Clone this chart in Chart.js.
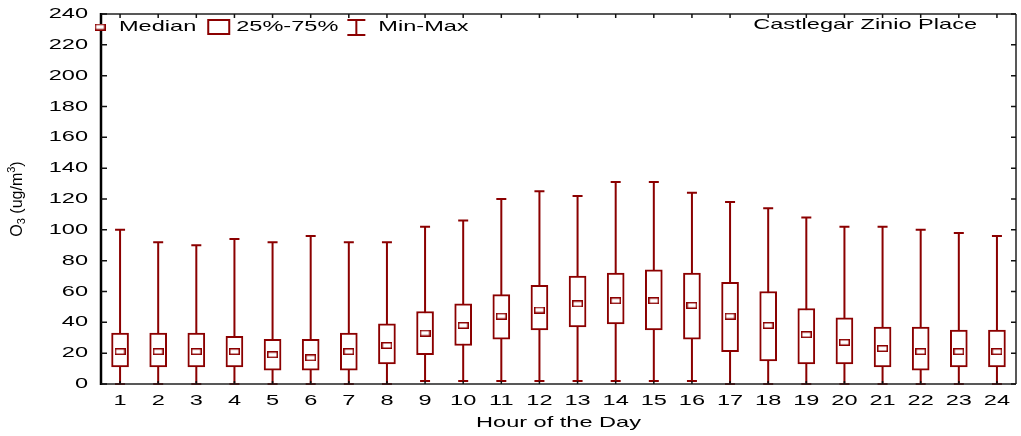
<!DOCTYPE html>
<html>
<head>
<meta charset="utf-8">
<script src="https://cdn.jsdelivr.net/npm/chart.js@4"></script>
<style>
  html, body { margin: 0; padding: 0; background: #fff; }
  canvas { display: block; }
</style>
</head>
<body>
<canvas id="chart" width="1021" height="436"></canvas>
<script>
// Hourly ozone distribution, Castlegar Zinio Place
const hours = ['1','2','3','4','5','6','7','8','9','10','11','12','13','14','15','16','17','18','19','20','21','22','23','24'];
const minVals = [0, 0, 0, 0, 0, 0, 0, 0, 2, 2, 2, 2, 2, 2, 2, 2, 0, 0, 0, 0, 0, 0, 0, 0];
const q1Vals  = [11, 11, 11, 11, 9, 9, 9, 13, 19, 25, 29, 35, 37, 39, 35, 29, 21, 15, 13, 13, 11, 9, 11, 11];
const medVals = [21, 21, 21, 21, 19, 17, 21, 25, 33, 38, 44, 48, 52, 54, 54, 51, 44, 38, 32, 27, 23, 21, 21, 21];
const q3Vals  = [33, 33, 33, 31, 29, 29, 33, 39, 47, 52, 58, 64, 70, 72, 74, 72, 66, 60, 49, 43, 37, 37, 35, 35];
const maxVals = [100, 92, 90, 94, 92, 96, 92, 92, 102, 106, 120, 125, 122, 131, 131, 124, 118, 114, 108, 102, 102, 100, 98, 96];
const yTickValues = [0, 20, 40, 60, 80, 100, 120, 140, 160, 180, 200, 220, 240];

const siteName = 'Castlegar Zinio Place';
const xTitle = 'Hour of the Day';
const legendLabels = ['Median', '25%-75%', 'Min-Max'];

const RED = '#8b0000';
const INK = '#000';
const FONT = '"Liberation Sans", Arial, sans-serif';
const SX = 1.57;   // horizontal stretch of the lettering

// small white rectangle used as the median marker
function makeMedianMarker() {
  const c = document.createElement('canvas');
  c.width = 11; c.height = 7;
  const g = c.getContext('2d');
  g.fillStyle = '#fff';
  g.fillRect(0, 0, 11, 7);
  g.strokeStyle = RED;
  g.lineWidth = 1.5;
  g.strokeRect(0.75, 0.75, 9.5, 5.5);
  return c;
}
const medianMarker = makeMedianMarker();

function wideText(ctx, text, x, y, align, size) {
  ctx.save();
  ctx.font = size + 'px ' + FONT;
  ctx.textBaseline = 'middle';
  ctx.textAlign = align;
  ctx.fillStyle = INK;
  ctx.translate(x, y);
  ctx.scale(SX, 1);
  ctx.fillText(text, 0, 0);
  ctx.restore();
}
function wideWidth(ctx, text, size) {
  ctx.save();
  ctx.font = size + 'px ' + FONT;
  const w = ctx.measureText(text).width * SX;
  ctx.restore();
  return w;
}

const boxPlotDecor = {
  id: 'boxPlotDecor',
  beforeDatasetsDraw(chart) {
    const { ctx, scales: { x, y } } = chart;
    ctx.save();
    ctx.strokeStyle = RED;
    ctx.lineWidth = 2;
    hours.forEach((h, i) => {
      const cx = x.getPixelForValue(i);
      const yMin = y.getPixelForValue(minVals[i]);
      const yMax = y.getPixelForValue(maxVals[i]);
      ctx.beginPath();
      ctx.moveTo(cx, yMin); ctx.lineTo(cx, yMax);
      ctx.moveTo(cx - 5, yMax); ctx.lineTo(cx + 5, yMax);
      ctx.moveTo(cx - 5, yMin); ctx.lineTo(cx + 5, yMin);
      ctx.stroke();
    });
    ctx.restore();
  },
  afterDatasetsDraw(chart) {
    const { ctx, chartArea: a, scales: { x, y } } = chart;
    ctx.save();

    // frame
    ctx.strokeStyle = '#222';
    ctx.lineWidth = 1.5;
    ctx.beginPath();
    ctx.moveTo(a.left, a.top); ctx.lineTo(a.right, a.top);
    ctx.moveTo(a.left, a.bottom); ctx.lineTo(a.right, a.bottom);
    ctx.moveTo(a.right, a.top); ctx.lineTo(a.right, a.bottom);
    ctx.stroke();
    ctx.strokeStyle = INK;
    ctx.lineWidth = 2.5;
    ctx.beginPath();
    ctx.moveTo(a.left, a.top - 1); ctx.lineTo(a.left, a.bottom + 1);
    ctx.stroke();

    // inward tick marks
    ctx.lineWidth = 1.5;
    ctx.strokeStyle = '#111';
    ctx.beginPath();
    y.ticks.forEach(t => {
      const py = y.getPixelForValue(t.value);
      ctx.moveTo(a.left, py); ctx.lineTo(a.left + 6, py);
      ctx.moveTo(a.right, py); ctx.lineTo(a.right - 5, py);
    });
    hours.forEach((h, i) => {
      const px = x.getPixelForTick(i);
      ctx.moveTo(px, a.top); ctx.lineTo(px, a.top + 4);
      ctx.moveTo(px, a.bottom); ctx.lineTo(px, a.bottom - 3);
    });
    ctx.stroke();

    // tick labels
    y.ticks.forEach(t => {
      wideText(ctx, String(t.value), a.left - 13, y.getPixelForValue(t.value), 'right', 15);
    });
    hours.forEach((h, i) => {
      wideText(ctx, h, x.getPixelForTick(i), a.bottom + 17, 'center', 15);
    });

    // axis titles
    wideText(ctx, xTitle, (a.left + a.right) / 2, a.bottom + 39, 'center', 15);

    ctx.save();
    ctx.translate(18, (a.top + a.bottom) / 2);
    ctx.rotate(-Math.PI / 2);
    ctx.fillStyle = INK;
    ctx.textBaseline = 'middle';
    ctx.textAlign = 'left';
    const parts = [
      ['O', 16, 0], ['3', 11, 4], [' (ug/m', 16, 0], ['3', 11, -6], [')', 16, 0]
    ];
    let total = 0;
    parts.forEach(p => { ctx.font = p[1] + 'px ' + FONT; total += ctx.measureText(p[0]).width; });
    let px = -total / 2;
    parts.forEach(p => {
      ctx.font = p[1] + 'px ' + FONT;
      ctx.fillText(p[0], px, p[2]);
      px += ctx.measureText(p[0]).width;
    });
    ctx.restore();

    // legend inside the plot area
    const ly = a.top + 13;
    let lx = a.left - 1;
    ctx.drawImage(medianMarker, lx - 5.5, ly - 3.5);
    lx += 19;
    wideText(ctx, legendLabels[0], lx, ly, 'left', 15);
    lx += wideWidth(ctx, legendLabels[0], 15) + 12;
    ctx.strokeStyle = RED;
    ctx.lineWidth = 2;
    ctx.strokeRect(lx, ly - 7, 21, 14);
    lx += 28;
    wideText(ctx, legendLabels[1], lx, ly, 'left', 15);
    lx += wideWidth(ctx, legendLabels[1], 15) + 9;
    ctx.beginPath();
    ctx.moveTo(lx, ly - 7); ctx.lineTo(lx + 18, ly - 7);
    ctx.moveTo(lx + 9, ly - 7); ctx.lineTo(lx + 9, ly + 8);
    ctx.moveTo(lx, ly + 8); ctx.lineTo(lx + 18, ly + 8);
    ctx.stroke();
    lx += 31;
    wideText(ctx, legendLabels[2], lx, ly, 'left', 15);

    // site name
    wideText(ctx, siteName, a.right - 39, a.top + 11, 'right', 15);

    ctx.restore();
  }
};

new Chart(document.getElementById('chart'), {
  type: 'bar',
  data: {
    labels: hours,
    datasets: [
      {
        type: 'line',
        label: 'Median',
        data: medVals,
        showLine: false,
        pointStyle: medianMarker,
        pointRadius: 4,
        pointHoverRadius: 4,
        order: 0
      },
      {
        type: 'bar',
        label: '25%-75%',
        data: hours.map((h, i) => [q1Vals[i], q3Vals[i]]),
        backgroundColor: '#fff',
        borderColor: RED,
        borderWidth: 2,
        borderSkipped: false,
        barThickness: 17,
        grouped: false,
        order: 1
      }
    ]
  },
  options: {
    responsive: false,
    animation: false,
    events: [],
    layout: { padding: { left: 101, right: 0, top: 14, bottom: 52 } },
    plugins: { legend: { display: false }, tooltip: { enabled: false } },
    scales: {
      x: { display: false, offset: true },
      y: {
        display: false,
        min: 0,
        max: 240,
        afterBuildTicks(scale) { scale.ticks = yTickValues.map(v => ({ value: v })); }
      }
    }
  },
  plugins: [boxPlotDecor]
});
</script>
</body>
</html>
